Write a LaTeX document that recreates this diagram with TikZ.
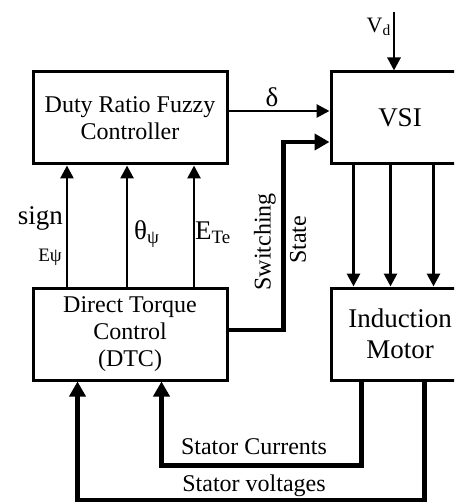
\documentclass[tikz,border=0pt]{standalone}
\usepackage{fontspec}
\setmainfont{Liberation Serif}
\usetikzlibrary{arrows.meta,calc}

\begin{document}
\begin{tikzpicture}[x=1pt, y=-1pt,
    block/.style={draw, line width=3pt, align=center, inner sep=0pt, minimum height=92pt},
    sig/.style={-{Triangle[length=13pt,width=13pt]}, line width=2.8pt},
    bus/.style={-{Triangle[length=15pt,width=16pt]}, line width=4.6pt},
    lbl/.style={inner sep=0pt, font=\fontsize{27}{31}\selectfont},
    wire/.style={inner sep=0pt, font=\fontsize{24}{28}\selectfont}]
    \useasboundingbox (0,0) rectangle (454,502);
    \clip (0,0) rectangle (454,502);

    % blocks
    \node[block, minimum width=194pt, font=\fontsize{24}{27}\selectfont] (duty) at (130,118) {Duty Ratio Fuzzy\\Controller};
    \node[block, minimum width=194pt, font=\fontsize{24}{27}\selectfont] (dtc) at (130,334) {Direct Torque\\Control\\(DTC)};
    \node[block, minimum width=138pt, font=\fontsize{27}{31}\selectfont] (vsi) at (400,118) {VSI};
    \node[block, minimum width=138pt, font=\fontsize{27}{31}\selectfont] (motor) at (400,334) {Induction\\Motor};

    % inputs of the inverter
    \coordinate (vd) at (394,12);
    \draw[sig] (vd) -- (vd |- vsi.north);
    \node[lbl, anchor=east, font=\fontsize{22}{26}\selectfont] (vdlbl) at (391,27) {V\textsubscript{d}};
    \draw[sig] ([yshift=7pt]duty.east) -- ([yshift=7pt]vsi.west);
    \node[lbl] (deltalbl) at (272,97) {δ};
    \draw[bus] ([yshift=4pt]dtc.east) -- ++(55,0) |- ([yshift=-24pt]vsi.west);
    \node[wire, rotate=90] (swlbl) at (265,242) {Switching};
    \node[wire, rotate=90] (stlbl) at (298,240) {State};

    % DTC to fuzzy controller
    \foreach \f in {0.18,0.485,0.825}
      \draw[sig] ($(dtc.north west)!\f!(dtc.north east)$) -- ($(duty.south west)!\f!(duty.south east)$);
    \node[lbl, anchor=east] (signlbl) at (63,218) {sign};
    \node[lbl, anchor=east, font=\fontsize{19}{23}\selectfont] (elbl) at (62,257) {Eψ};
    \node[lbl, anchor=west] (thetalbl) at (134,234) {θ\textsubscript{ψ}};
    \node[lbl, anchor=west] (etelbl) at (195,233) {E\textsubscript{Te}};

    % inverter to motor
    \foreach \dx in {24,61,104}
      \draw[sig] ([xshift=\dx pt]vsi.south west) -- ([xshift=\dx pt]motor.north west);

    % feedback
    \draw[bus] ([xshift=32pt]motor.south west) -- ++(0,84) -| ([xshift=130pt]dtc.south west);
    \node[wire] (curlbl) at (254,447) {Stator Currents};
    \draw[bus] ([xshift=95pt]motor.south west) -- ++(0,119) -| ([xshift=46pt]dtc.south west);
    \node[wire] (voltlbl) at (254,486) {Stator voltages};
  \end{tikzpicture}
\end{document}
